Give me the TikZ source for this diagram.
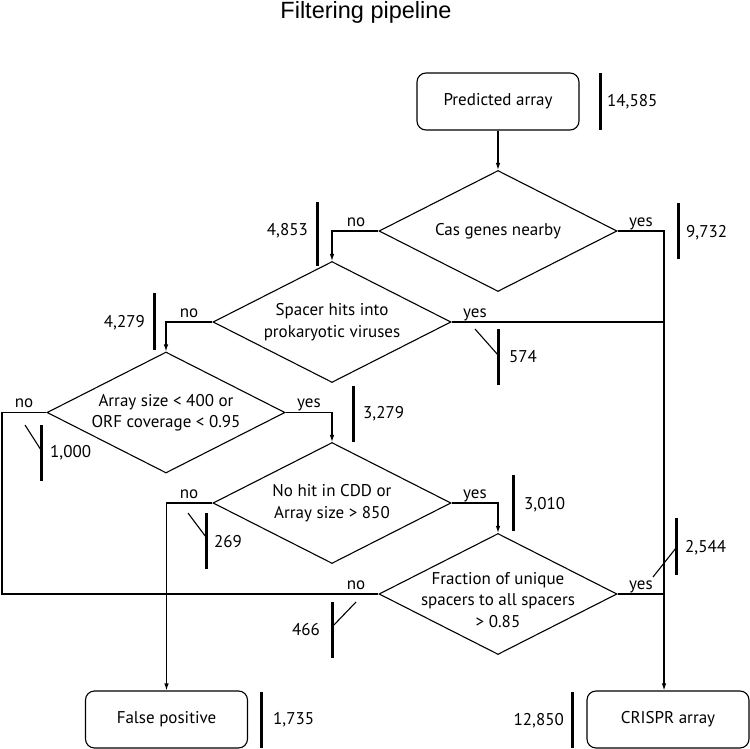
\documentclass[tikz,border=0pt]{standalone}
\usepackage{fontspec}
\setmainfont{PT Sans}
\newfontfamily\titlefont{Liberation Sans}
\usetikzlibrary{shapes.geometric,arrows.meta}
\begin{document}
\begin{tikzpicture}[x=1pt,y=-1pt,
  every node/.style={font=\fontsize{17}{21.5}\selectfont, inner sep=0pt},
  conn/.style={line width=1.1pt},
  arr/.style={line width=1.1pt, -{Latex[length=7pt,width=4.5pt]}},
  decision/.style={diamond, draw, line width=1.1pt, minimum width=238pt, minimum height=121pt, inner sep=0pt},
  endbox/.style={rectangle, rounded corners=9pt, draw, line width=1.1pt, minimum width=162pt, minimum height=57pt},
  bar/.style={line width=3pt},
  tickline/.style={line width=1.1pt},
  ans/.style={anchor=base},
  numr/.style={anchor=base west},
  numl/.style={anchor=base east}
]
\useasboundingbox (0,0) rectangle (750,749);

\node[font=\titlefont\fontsize{23.5}{28}\selectfont, anchor=base] (title) at (366,18.5) {Filtering pipeline};

% boxes
\node[endbox] (P) at (498,101.5) {Predicted array};
\node[endbox] (FP) at (166.5,719.5) {False positive};
\node[endbox] (CR) at (668,719.5) {CRISPR array};

% decisions
\node[decision, label={[align=center]center:{Cas genes nearby}}] (D1) at (498,231) {};
\node[decision, label={[align=center]center:{Spacer hits into\\prokaryotic viruses}}] (D2) at (332,322) {};
\node[decision, label={[align=center]center:{Array size < 400 or\\ORF coverage < 0.95}}] (D3) at (166,412.5) {};
\node[decision, label={[align=center]center:{No hit in CDD or\\Array size > 850}}] (D4) at (332,503) {};
\node[decision, label={[align=center,yshift=-6pt]center:{Fraction of unique\\spacers to all spacers\\> 0.85}}] (D5) at (498,594) {};

\coordinate (vline) at (664,0);
\coordinate (lline) at (2,0);

% connectors
\draw[arr] (P) -- (D1);
\draw[arr] (D1.east) -| (vline |- CR.north);
\draw[conn] (D2.east) -- (vline |- D2.east);
\draw[conn] (D5.east) -- (vline |- D5.east);
\draw[arr] (D1.west) -| (D2.north);
\draw[arr] (D2.west) -| (D3.north);
\draw[arr] (D3.east) -| (D4.north);
\draw[arr] (D4.east) -| (D5.north);
\draw[arr] (D4.west) -| (FP.north);
\draw[conn] (D3.west) -| (lline |- D5.west) -- (D5.west);

% yes / no labels
\node[ans] (y1) at (641,226) {yes};
\node[ans] (n1) at (356,226) {no};
\node[ans] (y2) at (475,317) {yes};
\node[ans] (n2) at (189,317) {no};
\node[ans] (y3) at (309,407) {yes};
\node[ans] (n3) at (24,407) {no};
\node[ans] (y4) at (475,498) {yes};
\node[ans] (n4) at (189,498) {no};
\node[ans] (y5) at (641,589) {yes};
\node[ans] (n5) at (356,589) {no};

% counts
\draw[bar] (600,73) -- (600,130);   \node[numr] (c1) at (607,107) {14,585};
\draw[bar] (678,203) -- (678,259);  \node[numr] (c2) at (686,237) {9,732};
\draw[bar] (317,202) -- (317,266);  \node[numl] (c3) at (308,235) {4,853};
\draw[bar] (154,293) -- (154,350);  \node[numl] (c4) at (145,327) {4,279};
\draw[bar] (498,329) -- (498,385);  \node[numr] (c5) at (509,362) {574};
\draw[tickline] (475,329) -- (498,355);
\draw[bar] (41,425) -- (41,481);    \node[numr] (c6) at (50,457) {1,000};
\draw[tickline] (25,425) -- (41,450);
\draw[bar] (353,386) -- (353,442);  \node[numr] (c7) at (363,418) {3,279};
\draw[bar] (206,513) -- (206,569);  \node[numr] (c8) at (214,547) {269};
\draw[tickline] (188,513) -- (206,537);
\draw[bar] (513,475) -- (513,531);  \node[numr] (c9) at (524,509) {3,010};
\draw[bar] (676,518) -- (676,575);  \node[numr] (c10) at (685,552) {2,544};
\draw[tickline] (653,577) -- (676,548);
\draw[bar] (332,602) -- (332,658);  \node[numl] (c11) at (320,635) {466};
\draw[tickline] (356,602) -- (332,627);
\draw[bar] (261,692) -- (261,748);  \node[numr] (c12) at (273,724) {1,735};
\draw[bar] (572,692) -- (572,748);  \node[numl] (c13) at (564,725) {12,850};
\end{tikzpicture}
\end{document}
